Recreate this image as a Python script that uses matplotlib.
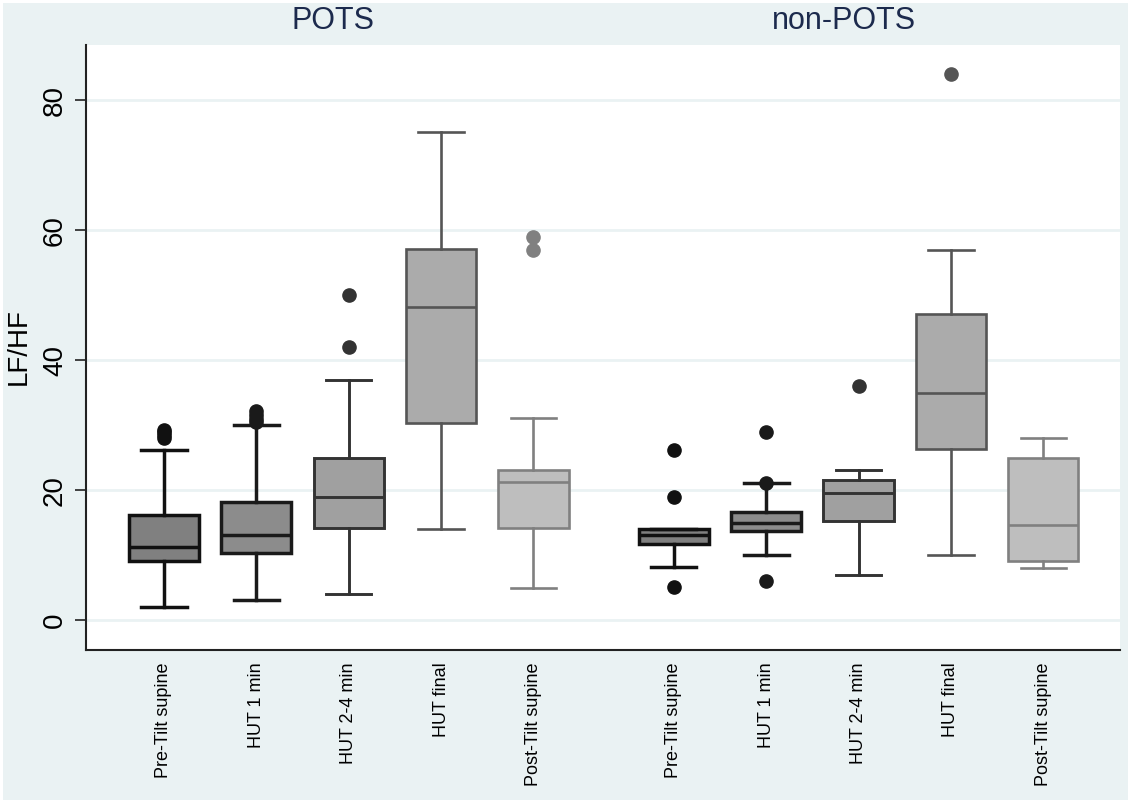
import matplotlib.pyplot as plt
from matplotlib.patches import Rectangle

plt.rcParams['font.family'] = ['Liberation Sans', 'DejaVu Sans']

# phases shown in each group
phases = ['Pre-Tilt supine', 'HUT 1 min', 'HUT 2-4 min', 'HUT final', 'Post-Tilt supine']
groups = ['POTS', 'non-POTS']

# LF/HF box statistics: low whisker, q1, median, q3, high whisker
pots_whislo = [2.0, 3.1, 4.0, 14.0, 5.0]
pots_q1 = [9.1, 10.3, 14.2, 30.3, 14.2]
pots_med = [11.2, 13.1, 19.0, 48.2, 21.2]
pots_q3 = [16.1, 18.1, 25.0, 57.1, 23.1]
pots_whishi = [26.2, 30.0, 37.0, 75.1, 31.1]
pots_fliers = [[28, 28.5, 29, 29.3], [30.5, 31, 31.5, 32.2], [42, 50], [], [57, 59]]

non_whislo = [8.1, 10.0, 7.0, 10.0, 8.0]
non_q1 = [11.7, 13.7, 15.2, 26.3, 9.1]
non_med = [13.1, 15.0, 19.6, 35.0, 14.6]
non_q3 = [14.0, 16.6, 21.6, 47.1, 25.0]
non_whishi = [14.0, 21.1, 23.1, 57.0, 28.1]
non_fliers = [[5.1, 19.0, 26.2], [6.0, 21.1, 29.0], [36], [84], []]

# look of each phase (same in both groups)
fills = ['#808080', '#8c8c8c', '#a0a0a0', '#ababab', '#bebebe']
edges = ['#111111', '#1a1a1a', '#333333', '#555555', '#808080']
widths = [2.5, 2.5, 2.1, 1.9, 1.9]

stats = []
for lo, a, m, b, hi, fl in zip(pots_whislo + non_whislo, pots_q1 + non_q1,
                                pots_med + non_med, pots_q3 + non_q3,
                                pots_whishi + non_whishi, pots_fliers + non_fliers):
    stats.append(dict(whislo=lo, q1=a, med=m, q3=b, whishi=hi, fliers=fl))

pos = [1, 2, 3, 4, 5, 6.52, 7.52, 8.52, 9.52, 10.52]

fig = plt.figure(figsize=(11.32, 8.05), dpi=100)
fig.patch.set_facecolor('white')
fig.patches.append(Rectangle((3 / 1132, 5 / 805), 1125 / 1132, 797 / 805,
                             transform=fig.transFigure, facecolor='#eaf2f3',
                             edgecolor='none', zorder=-10))

ax = fig.add_axes([86 / 1132, 1 - 650 / 805, 1034 / 1132, 605 / 805])
ax.set_facecolor('white')

art = ax.bxp(stats, positions=pos, widths=0.76, capwidths=0.49,
             patch_artist=True, showfliers=True)

for i in range(10):
    k = i % 5
    c, w = edges[k], widths[k]
    art['boxes'][i].set(facecolor=fills[k], edgecolor=c, linewidth=w)
    art['medians'][i].set(color=c, linewidth=w)
    for ln in art['whiskers'][2 * i:2 * i + 2] + art['caps'][2 * i:2 * i + 2]:
        ln.set(color=c, linewidth=w)
    art['fliers'][i].set(marker='o', markersize=9.5, markerfacecolor=c,
                         markeredgecolor=c, linestyle='none')

ax.set_xlim(0.156, 11.35)
ax.set_ylim(-4.6, 88.5)
ax.set_yticks([0, 20, 40, 60, 80])
ax.set_yticklabels(['0', '20', '40', '60', '80'], rotation=90, va='center', fontsize=20)
ax.set_xticks(pos)
ax.set_xticklabels(phases * 2, rotation=90, fontsize=13)
ax.tick_params(axis='x', length=0, pad=9)
ax.tick_params(axis='y', length=8, width=1.2, pad=5, color='#222222')

ax.yaxis.grid(True, color='#eaf2f3', linewidth=2)
ax.set_axisbelow(True)
for s in ['top', 'right']:
    ax.spines[s].set_visible(False)
for s in ['left', 'bottom']:
    ax.spines[s].set_linewidth(1.5)
    ax.spines[s].set_color('#222222')

fig.text(19 / 1132, 1 - 347 / 805, 'LF/HF', rotation=90, ha='center', va='center', fontsize=20)
fig.text(333 / 1132, 1 - 21 / 805, groups[0], ha='center', va='center', fontsize=22, color='#1c2a4d')
fig.text(844 / 1132, 1 - 21 / 805, groups[1], ha='center', va='center', fontsize=22, color='#1c2a4d')

fig.savefig('out.png', dpi=100)
